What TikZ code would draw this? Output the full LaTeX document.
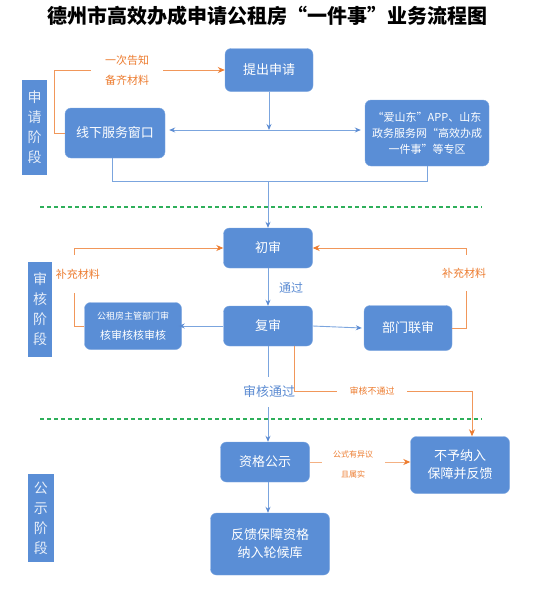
\documentclass[tikz,border=0pt]{standalone}
\usepackage{fontspec}
\setmainfont{Noto Sans CJK SC}
\usetikzlibrary{arrows.meta}
\definecolor{flowBlue}{HTML}{5A8ED6}
\definecolor{flowEdge}{HTML}{7FA8E0}
\definecolor{lineBlue}{HTML}{7BA5DE}
\definecolor{tipBlue}{HTML}{5B8BD2}
\definecolor{noteOrange}{HTML}{ED7D31}
\definecolor{paleOrange}{HTML}{F4B183}
\definecolor{stageGreen}{HTML}{2EAF5A}
\definecolor{barText}{HTML}{E6EEF9}

\begin{document}
\begin{tikzpicture}[x=1pt,y=-1pt]
  \tikzset{
    procbox/.style={draw=flowEdge,fill=flowBlue,rounded corners=6pt,text=white,align=center,inner sep=1pt,
      font=\fontsize{13}{18}\selectfont},
    stagebar/.style={fill=flowBlue,text=barText,align=center,inner sep=0pt,font=\fontsize{14}{20}\selectfont},
    bline/.style={draw=lineBlue,line width=0.9pt,-{Stealth[length=6pt,width=5pt,color=tipBlue]}},
    oline/.style={draw=noteOrange!80,line width=0.9pt,-{Stealth[length=7pt,width=6pt,color=noteOrange]}},
    pline/.style={draw=paleOrange,line width=1pt,-{Stealth[length=7pt,width=6pt,color=noteOrange]}},
    note/.style={fill=white,text=noteOrange,align=center,inner sep=0pt},
    divider/.style={stageGreen,line width=1.1pt,dash pattern=on 4pt off 3pt}
  }
  \useasboundingbox (0,0) rectangle (536,590);

  \node[font=\fontsize{20}{24}\selectfont\bfseries] (title) at (268,16)
    {德州市高效办成申请公租房“一件事”业务流程图};

  % stage bars
  \node[stagebar,minimum width=25pt,minimum height=95pt] (barApply) at (34.5,127.5) {申\\请\\阶\\段};
  \node[stagebar,minimum width=24pt,minimum height=95pt] (barCheck) at (40,309.5) {审\\核\\阶\\段};
  \node[stagebar,minimum width=26pt,minimum height=88pt] (barShow) at (41,518) {公\\示\\阶\\段};

  \draw[divider] (40,207) -- (482,207);
  \draw[divider] (40,419) -- (482,419);

  % boxes
  \node[procbox,minimum width=88pt,minimum height=43pt] (apply) at (269,70) {提出申请};
  \node[procbox,minimum width=100pt,minimum height=50pt] (offline) at (115,133) {线下服务窗口};
  \node[procbox,minimum width=124pt,minimum height=66pt,font=\fontsize{11}{16}\selectfont] (online) at (427,133)
    {“爱山东”APP、山东\\政务服务网“高效办成\\一件事”等专区};
  \node[procbox,minimum width=89pt,minimum height=40pt] (first) at (268,248) {初审};
  \node[procbox,minimum width=89pt,minimum height=40pt] (review) at (268,326) {复审};
  \node[procbox,minimum width=88pt,minimum height=45pt] (joint) at (408,328) {部门联审};
  \node[procbox,minimum width=97pt,minimum height=47pt,font=\fontsize{9}{20}\selectfont] (chief) at (133,326)
    {公租房主管部门审\\{\fontsize{11}{20}\selectfont 核审核核审核}};
  \node[procbox,minimum width=89pt,minimum height=40pt] (pub) at (265,462) {资格公示};
  \node[procbox,minimum width=99pt,minimum height=57pt] (reject) at (460,465) {不予纳入\\保障并反馈};
  \node[procbox,minimum width=119pt,minimum height=62pt] (feedback) at (270,544) {反馈保障资格\\纳入轮候库};

  % application stage
  \coordinate (hub) at (269,130);
  \coordinate (merge) at (268,181);
  \draw[bline] (apply.south) -- (hub);
  \draw[bline,{Stealth[length=6pt,width=5pt,color=tipBlue]}-{Stealth[length=6pt,width=5pt,color=tipBlue]},shorten <=4pt,shorten >=4pt]
    (offline.east |- hub) -- (online.west |- hub);
  \draw[draw=lineBlue,line width=0.9pt] ([xshift=-3pt]offline.south) |- (merge);
  \draw[draw=lineBlue,line width=0.9pt] (online.south) |- (merge);
  \draw[bline] (merge) -- (first.north);
  \draw[oline] (offline.west) -- ++(-10,0) |- (apply.west);
  \node[note,font=\fontsize{11}{20}\selectfont,minimum width=72pt] (noteOnce) at (127,70) {一次告知\\备齐材料};

  % review stage
  \draw[bline] (first.south) -- (review.north);
  \node[text=tipBlue,font=\fontsize{12}{14}\selectfont] (notePass) at (291,288) {通过};
  \draw[bline] (review.west) -- ([xshift=-3pt]chief.east);
  \draw[bline] (review.east) -- ([xshift=-2pt]joint.west);
  \draw[oline] (chief.west) -- ++(-10,0) |- (first.west);
  \node[note,font=\fontsize{11}{14}\selectfont,minimum height=38pt] (noteMoreL) at (78,274) {补充材料};
  \draw[oline] (joint.east) -- ++(14,0) |- (first.east);
  \node[note,font=\fontsize{11}{14}\selectfont,minimum height=36pt] (noteMoreR) at (464,273) {补充材料};
  \draw[bline] (review.south) -- (review.south |- pub.north);
  \node[note,text=tipBlue,font=\fontsize{13}{16}\selectfont,minimum height=30pt] (noteOk) at (269,392) {审核通过};
  \draw[oline] ([xshift=26pt]review.south) -- ++(0,45) -| ([xshift=12pt]reject.north);
  \node[note,font=\fontsize{9}{12}\selectfont,minimum width=70pt] (noteFail) at (372,391) {审核不通过};

  % public stage
  \draw[bline] (review.south |- pub.south) -- (review.south |- feedback.north);
  \draw[pline] (pub.east) -- (pub.east -| reject.west);
  \node[note,font=\fontsize{8}{20}\selectfont,minimum width=63pt] (noteObject) at (353,464) {公式有异议\\且属实};
\end{tikzpicture}
\end{document}
